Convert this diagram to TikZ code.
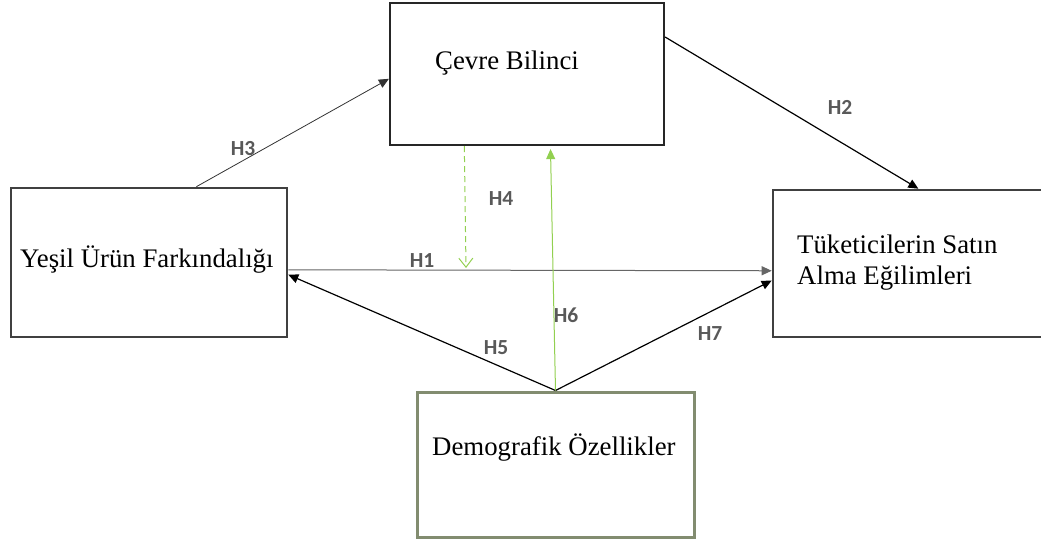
\documentclass[tikz,border=0pt]{standalone}
\usepackage{fontspec}
\setmainfont{Liberation Serif}
\newfontfamily\hfont{Carlito}
\usetikzlibrary{arrows.meta}
\definecolor{hgray}{RGB}{89,89,89}
\definecolor{mygreen}{RGB}{146,208,80}
\definecolor{demoedge}{RGB}{130,140,112}

\tikzset{
	box/.style={rectangle, draw=black!85, line width=2.2pt, inner sep=0pt},
	boxtext/.style={font=\fontsize{26.8}{31}\selectfont, anchor=base west, inner sep=0pt},
	hlabel/.style={font=\hfont\bfseries\fontsize{21.5}{24}\selectfont, text=hgray, inner sep=0pt},
	link/.style={-{Triangle[length=10pt,width=9pt]}, line width=1pt},
}

\begin{document}
\begin{tikzpicture}[x=1pt, y=-1pt]

\useasboundingbox (0,0) rectangle (1041,540);

%----------BOXES-------------%
\node[box, minimum width=274pt, minimum height=142pt] (cevre) at (527,74) {};
\node[box, draw=black!75, line width=2.6pt, minimum width=276pt, minimum height=149pt] (yesil) at (149,262.5) {};
\node[box, draw=black!75, line width=2.6pt, minimum width=275pt, minimum height=147pt] (tuk) at (910.5,263.5) {};
\node[box, draw=demoedge, line width=3pt, minimum width=277pt, minimum height=145pt] (demo) at (555.5,464.5) {};

\node[boxtext] (cevretxt) at (435,70) {Çevre Bilinci};
\node[boxtext] (yesiltxt) at (20,267) {Yeşil Ürün Farkındalığı};
\node[boxtext] (tuktxta) at (797,253) {Tüketicilerin Satın};
\node[boxtext] (tuktxtb) at (797,284) {Alma Eğilimleri};
\node[boxtext] (demotxt) at (432,455) {Demografik Özellikler};

\coordinate (h4end) at (466,268);

%----------LINKS-------------%
\draw[link, line width=0.8pt, black!80] (yesil.58) -- (cevre.182);
\draw[link, line width=1.2pt] (cevre.15) -- (tuk.84);
\draw[link, black!60] (yesil.-3.5) -- (tuk.183);
\draw[mygreen, dashed, dash pattern=on 6pt off 4pt, line width=1pt,
	-{Straight Barb[length=9pt,width=14pt]}] (cevre.-131) -- (h4end);
\draw[link, line width=1.2pt] (demo.north) -- (yesil.-5);
\draw[link, line width=1.2pt] (demo.north) -- (tuk.187.7);
\draw[link, mygreen, shorten >=3pt] (demo.north) -- (cevre.-72);

%----------LABELS-------------%
\node[hlabel] (h1) at (422,261) {H1};
\node[hlabel] (h2) at (840,107) {H2};
\node[hlabel] (h3) at (243,149) {H3};
\node[hlabel] (h4) at (501,199) {H4};
\node[hlabel] (h5) at (496,348) {H5};
\node[hlabel] (h6) at (566,315) {H6};
\node[hlabel] (h7) at (710,334) {H7};

\end{tikzpicture}
\end{document}
